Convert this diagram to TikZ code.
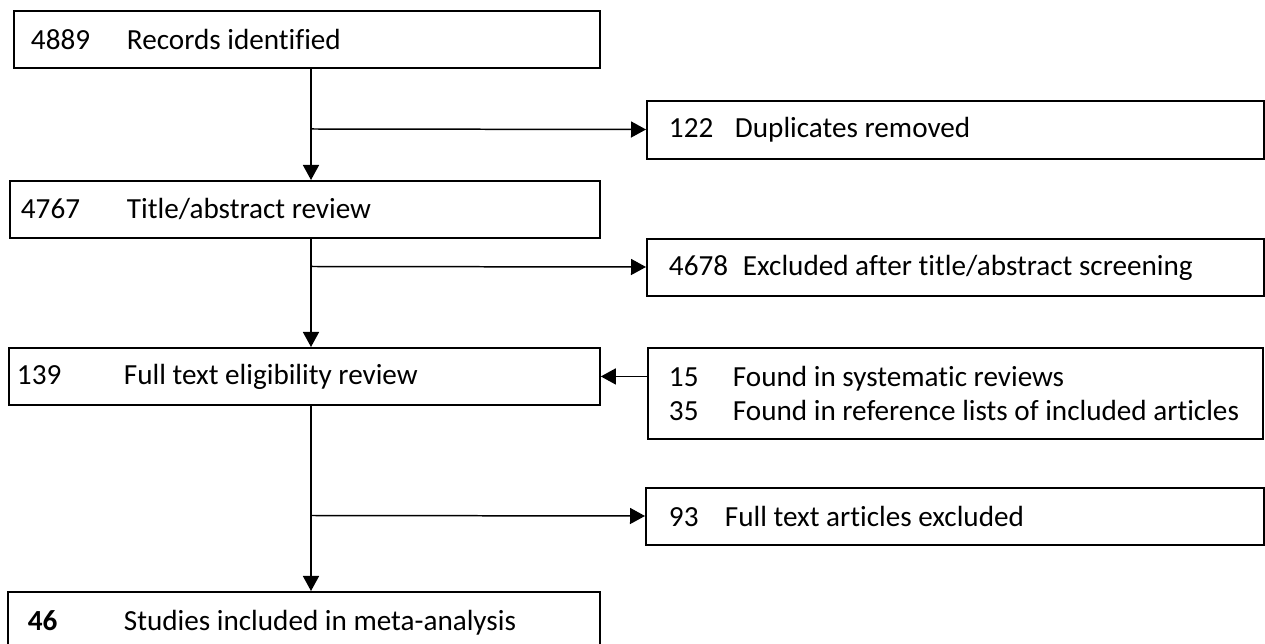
\documentclass[tikz,border=0pt]{standalone}
\usepackage{fontspec}
\setmainfont{Carlito}[Ligatures={NoCommon}]
\usetikzlibrary{arrows.meta}
\newcommand{\entry}[3]{\hspace*{#1}\makebox[#2][l]{#3}}
\begin{document}
\begin{tikzpicture}[x=0.02cm,y=-0.02cm,
    box/.style={draw,line width=1.1pt,anchor=north west,inner xsep=0pt,inner ysep=0pt,
      align=left,font=\fontsize{16.6}{19.8}\selectfont},
    arr/.style={line width=0.85pt,-{Triangle[length=0.3cm,width=0.32cm]}}]
  \useasboundingbox (0,0) rectangle (1265,644);
  % left column
  \node[box,minimum height=1.14cm] (rec) at (13,10)
    {\makebox[11.72cm][l]{\entry{0.34cm}{1.92cm}{4889}Records identified}};
  \node[box,minimum height=1.14cm] (tar) at (9,180)
    {\makebox[11.8cm][l]{\entry{0.22cm}{2.12cm}{4767}Title/abstract review}};
  \node[box,minimum height=1.14cm] (fte) at (8,347)
    {\makebox[11.82cm][l]{\entry{0.16cm}{2.14cm}{139}Full text eligibility review}};
  \node[box,minimum height=1.24cm] (inc) at (7,591)
    {\makebox[11.84cm][l]{\entry{0.40cm}{1.92cm}{\bfseries 46}Studies included in meta-analysis}};
  % right column
  \node[box,minimum height=1.16cm] (dup) at (646,100)
    {\makebox[12.34cm][l]{\entry{0.44cm}{1.32cm}{122}Duplicates removed}};
  \node[box,minimum height=1.14cm] (excl) at (646,238)
    {\makebox[12.34cm][l]{\entry{0.44cm}{1.48cm}{4678}Excluded after title/abstract screening}};
  \node[box,minimum height=1.82cm] (add) at (647,347)
    {\makebox[12.3cm][l]{\entry{0.42cm}{1.28cm}{15}Found in systematic reviews}\\
     \makebox[12.3cm][l]{\entry{0.42cm}{1.28cm}{35}Found in reference lists of included articles}};
  \node[box,minimum height=1.14cm] (ftx) at (645,487)
    {\makebox[12.36cm][l]{\entry{0.46cm}{1.12cm}{93}Full text articles excluded}};
  % branch points on the main line
  \coordinate (t1) at (311,129);
  \coordinate (t2) at (311,266.5);
  \coordinate (t3) at (311,515.5);
  \draw[arr] (rec.south -| t1) -- (tar.north -| t1);
  \draw[arr] (tar.south -| t1) -- (fte.north -| t1);
  \draw[arr] (fte.south -| t1) -- (inc.north -| t1);
  \draw[arr] (t1) -- (dup);
  \draw[arr] (t2) -- (excl);
  \draw[arr] (t3) -- (ftx);
  \draw[arr] (add.west |- fte.east) -- (fte.east);
\end{tikzpicture}
\end{document}
